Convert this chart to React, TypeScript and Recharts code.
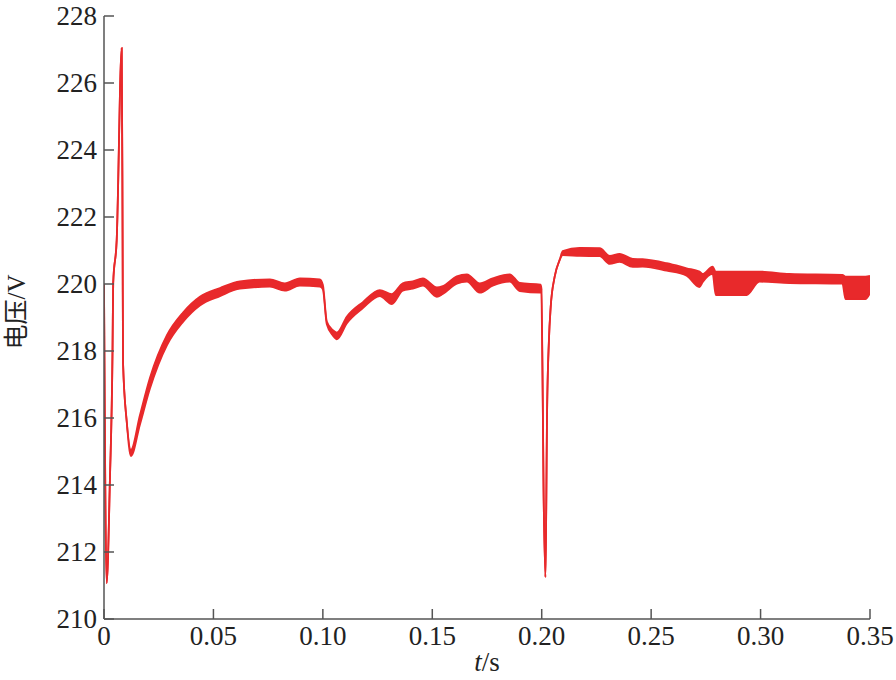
import { Area, ComposedChart, XAxis, YAxis } from "recharts";

// time (s) and the upper / lower edge of the rippled voltage trace (V)
const times = [
  0, 0.0012, 0.0027, 0.0039, 0.0042, 0.0058, 0.0081, 0.0085, 0.0087, 0.0104,
  0.0123, 0.0164, 0.021, 0.0288, 0.0361, 0.0438, 0.053, 0.0621, 0.0758, 0.0826,
  0.0895, 0.0986, 0.1, 0.1018, 0.1046, 0.1064, 0.111, 0.1183, 0.126, 0.1315,
  0.1365, 0.1411, 0.1457, 0.1521, 0.1548, 0.1612, 0.1658, 0.1717, 0.1776, 0.1854,
  0.19, 0.1995, 0.1999, 0.2009, 0.2017, 0.2021, 0.2024, 0.2033, 0.2041, 0.2059,
  0.2082, 0.2096, 0.2174, 0.2265, 0.2311, 0.2356, 0.2416, 0.2461, 0.2571, 0.2662,
  0.2721, 0.2735, 0.2781, 0.2795, 0.2936, 0.2995, 0.3132, 0.3374, 0.3388, 0.3479,
  0.35,
];

const upper = [
  220.0, 211.07, 214.15, 218.03, 220.03, 221.31, 227.04, 221.31, 217.64, 215.88,
  215.05, 216.08, 217.2, 218.48, 219.15, 219.62, 219.88, 220.08, 220.14, 220.02,
  220.17, 220.14, 219.98, 218.88, 218.62, 218.55, 219.03, 219.46, 219.82, 219.7,
  220.02, 220.08, 220.17, 219.9, 219.94, 220.23, 220.29, 220.02, 220.17, 220.29,
  220.03, 219.98, 219.85, 213.55, 211.25, 213.55, 215.94, 218.33, 219.31, 220.21,
  220.72, 220.98, 221.08, 221.07, 220.84, 220.9, 220.75, 220.74, 220.62, 220.47,
  220.37, 220.3, 220.52, 220.37, 220.37, 220.37, 220.3, 220.27, 220.22, 220.22,
  220.24,
];

const lower = [
  220.0, 211.07, 214.15, 218.03, 220.03, 221.31, 227.04, 221.31, 217.64, 215.88,
  214.86, 215.8, 216.88, 218.18, 218.87, 219.36, 219.64, 219.86, 219.92, 219.8,
  219.95, 219.92, 219.84, 218.8, 218.46, 218.35, 218.83, 219.28, 219.64, 219.4,
  219.8, 219.86, 219.95, 219.62, 219.7, 220.01, 220.07, 219.74, 219.95, 220.07,
  219.79, 219.74, 219.85, 213.55, 211.25, 213.55, 215.94, 218.33, 219.31, 220.21,
  220.72, 220.86, 220.84, 220.83, 220.6, 220.66, 220.51, 220.52, 220.4, 220.25,
  219.91, 220.05, 220.3, 219.67, 219.67, 220.07, 220.03, 220.01, 219.55, 219.55,
  219.73,
];

const xTicks = [0, 0.05, 0.1, 0.15, 0.2, 0.25, 0.3, 0.35];
const xTickLabels = ["0", "0.05", "0.10", "0.15", "0.20", "0.25", "0.30", "0.35"];
const yTicks = [210, 212, 214, 216, 218, 220, 222, 224, 226, 228];

const data = times.map((t, i) => ({ t, band: [lower[i], upper[i]] }));

const red = "#e8292b";
const axisColor = "#555555";
const serif = '"Liberation Serif", "Times New Roman", Times, "DejaVu Serif", serif';

function XTick(props: any) {
  const { x, y, payload } = props;
  const idx = xTicks.findIndex((v) => Math.abs(v - payload.value) < 1e-9);
  return (
    <g>
      <line x1={x} y1={y} x2={x} y2={y - 10} stroke={axisColor} strokeWidth={1.5} />
      <text x={x} y={y + 26} textAnchor="middle" fill="#222" fontFamily={serif} fontSize={27}>
        {xTickLabels[idx]}
      </text>
    </g>
  );
}

function YTick(props: any) {
  const { x, y, payload } = props;
  return (
    <g>
      <line x1={x} y1={y} x2={x + 10} y2={y} stroke={axisColor} strokeWidth={1.5} />
      <text x={x - 7} y={y + 9} textAnchor="end" fill="#222" fontFamily={serif} fontSize={27}>
        {payload.value}
      </text>
    </g>
  );
}

export default function App() {
  return (
    <div style={{ position: "absolute", left: 0, top: 0, background: "#fff", fontFamily: serif }}>
      <ComposedChart
        width={896}
        height={680}
        data={data}
        margin={{ top: 16, right: 26, left: 0, bottom: 0 }}
        style={{ fontFamily: serif }}
      >
        <XAxis
          dataKey="t"
          type="number"
          domain={[0, 0.35]}
          ticks={xTicks}
          interval={0}
          height={61}
          tickSize={0}
          tickMargin={0}
          tickLine={false}
          axisLine={{ stroke: axisColor, strokeWidth: 1.5 }}
          tick={<XTick />}
          allowDataOverflow
        />
        <YAxis
          type="number"
          domain={[210, 228]}
          ticks={yTicks}
          interval={0}
          width={104}
          tickSize={0}
          tickMargin={0}
          tickLine={false}
          axisLine={{ stroke: axisColor, strokeWidth: 1.5 }}
          tick={<YTick />}
          allowDataOverflow
        />
        <Area
          type="monotone"
          dataKey="band"
          stroke={red}
          strokeWidth={1.8}
          fill={red}
          fillOpacity={1}
          dot={false}
          activeDot={false}
          isAnimationActive={false}
        />
      </ComposedChart>
      <svg
        width={896}
        height={680}
        style={{ position: "absolute", left: 0, top: 0, pointerEvents: "none" }}
      >
        <text
          transform="translate(25, 312) rotate(-90)"
          textAnchor="middle"
          fill="#222"
          fontFamily={'"Liberation Serif", "Noto Sans CJK SC", serif'}
          fontSize={25}
        >
          电压/V
        </text>
        <text x={487} y={671} textAnchor="middle" fill="#222" fontFamily={serif} fontSize={27}>
          <tspan fontStyle="italic">t</tspan>/s
        </text>
      </svg>
    </div>
  );
}
